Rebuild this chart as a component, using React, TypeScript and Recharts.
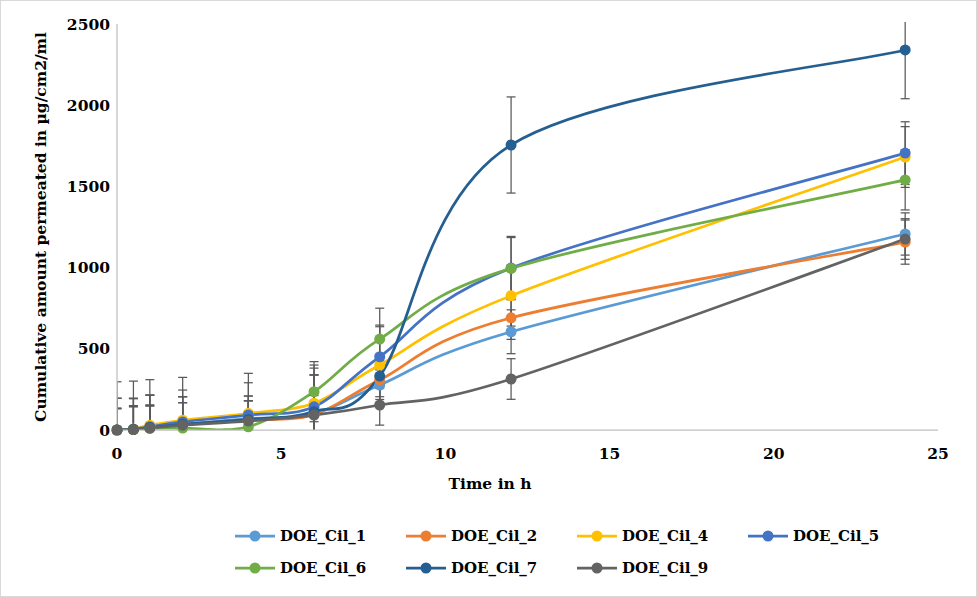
import React from 'react';
import { LineChart, Line, XAxis, YAxis, ErrorBar, Label } from 'recharts';

const FONT = '"DejaVu Serif", serif';

// sampling times (h)
const times = [0, 0.5, 1, 2, 4, 6, 8, 12, 24];

// cumulative amount permeated (µg/cm2/ml) and error bars
const cil1 = [0, 4, 15, 35, 70, 100, 277, 605, 1207];
const cil1Err = [130, 140, 135, 133, 110, 239, 120, 135, 130];
const cil2 = [0, 3, 14, 35, 60, 95, 308, 691, 1157];
const cil2Err = [195, 190, 200, 170, 149, 244, 120, 133, 136];
const cil4 = [0, 6, 30, 60, 103, 165, 400, 827, 1681];
const cil4Err = [195, 190, 185, 186, 188, 235, 236, 187, 187];
const cil5 = [0, 5, 20, 50, 92, 143, 451, 997, 1705];
const cil5Err = [135, 145, 135, 155, 117, 238, 195, 195, 193];
const cil6 = [0, 3, 10, 12, 20, 236, 560, 995, 1540];
const cil6Err = [297, 298, 300, 312, 329, 185, 190, 190, 185];
const cil7 = [0, 4, 15, 35, 65, 113, 332, 1755, 2340];
const cil7Err = [195, 190, 200, 170, 115, 226, 127, 296, 300];
const cil9 = [0, 3, 12, 30, 55, 92, 154, 314, 1176];
const cil9Err = [133, 140, 135, 138, 125, 120, 124, 125, 125];

const xTicks = [0, 5, 10, 15, 20, 25];
const yTicks = [0, 500, 1000, 1500, 2000, 2500];

const series = [
  { key: 'c1', name: 'DOE_Cil_1', color: '#5B9BD5', values: cil1, errors: cil1Err },
  { key: 'c2', name: 'DOE_Cil_2', color: '#ED7D31', values: cil2, errors: cil2Err },
  { key: 'c4', name: 'DOE_Cil_4', color: '#FFC000', values: cil4, errors: cil4Err },
  { key: 'c5', name: 'DOE_Cil_5', color: '#4472C4', values: cil5, errors: cil5Err },
  { key: 'c6', name: 'DOE_Cil_6', color: '#70AD47', values: cil6, errors: cil6Err },
  { key: 'c7', name: 'DOE_Cil_7', color: '#255E91', values: cil7, errors: cil7Err },
  { key: 'c9', name: 'DOE_Cil_9', color: '#636363', values: cil9, errors: cil9Err },
];

const data = times.map((t, i) => {
  const row: Record<string, number> = { t };
  series.forEach(s => {
    row[s.key] = s.values[i];
    row[s.key + 'e'] = s.errors[i];
  });
  return row;
});

// chart box
const W = 977;
const H = 597;
const M = { top: 24, right: 39, left: 20, bottom: 137 };
const Y_W = 97;
const X_H = 30;

// Excel-style smoothed line (cardinal / Catmull-Rom, control = p ± (next - prev) / 6)
const excelCurve: any = (context: any) => {
  let pts: number[][] = [];
  return {
    areaStart() {},
    areaEnd() {},
    lineStart() { pts = []; },
    point(x: number, y: number) { pts.push([+x, +y]); },
    lineEnd() {
      const n = pts.length;
      if (!n) return;
      context.moveTo(pts[0][0], pts[0][1]);
      for (let i = 0; i < n - 1; i++) {
        const p0 = pts[i - 1] || pts[i];
        const p1 = pts[i];
        const p2 = pts[i + 1];
        const p3 = pts[i + 2] || pts[i + 1];
        context.bezierCurveTo(
          p1[0] + (p2[0] - p0[0]) / 6, p1[1] + (p2[1] - p0[1]) / 6,
          p2[0] - (p3[0] - p1[0]) / 6, p2[1] - (p3[1] - p1[1]) / 6,
          p2[0], p2[1],
        );
      }
    },
  };
};

const tickStyle = { fill: '#000', fontSize: 15.5, fontWeight: 700, fontFamily: FONT };

const YTitle = (props: any) => {
  const { x, y, height } = props.viewBox;
  const cx = x + 20;
  const cy = y + height / 2;
  return (
    <text x={cx} y={cy} transform={`rotate(-90 ${cx} ${cy})`} textAnchor="middle" dominantBaseline="central"
      style={{ ...tickStyle }}>
      Cumulative amount permeated in µg/cm2/ml
    </text>
  );
};

const XTitle = (props: any) => {
  const { x, y } = props.viewBox;
  return (
    <text x={x + 373} y={y + 53} textAnchor="middle" dominantBaseline="central" style={{ ...tickStyle }}>
      Time in h
    </text>
  );
};

export default function App() {
  const plotX = M.left + Y_W;
  const plotY = M.top;
  const plotW = W - M.right - plotX;
  const plotH = H - M.bottom - X_H - M.top;
  return (
    <div style={{ position: 'absolute', left: 0, top: 0, width: W, height: H, background: '#fff' }}>
      {/* clip region for the error bars (plot area) */}
      <svg width={0} height={0} style={{ position: 'absolute' }}>
        <defs>
          <clipPath id="plot-clip">
            <rect x={plotX} y={plotY - 2} width={plotW} height={plotH + 2} />
          </clipPath>
        </defs>
      </svg>
      <LineChart width={W} height={H} data={data} margin={M}>
        <XAxis dataKey="t" type="number" domain={[0, 25]} ticks={xTicks} allowDataOverflow
          tickLine={false} tickSize={6} tickMargin={12} height={X_H}
          axisLine={{ stroke: '#BFBFBF', strokeWidth: 1.25 }} tick={tickStyle}>
          <Label content={XTitle} />
        </XAxis>
        <YAxis type="number" domain={[0, 2500]} ticks={yTicks} allowDataOverflow width={Y_W}
          tickLine={false} tickSize={5} tickMargin={2}
          axisLine={{ stroke: '#BFBFBF', strokeWidth: 1.25 }} tick={tickStyle}>
          <Label content={YTitle} />
        </YAxis>
        {series.map(s => (
          <Line key={s.key} dataKey={s.key} name={s.name} type={excelCurve} stroke={s.color} strokeWidth={2.75}
            dot={{ r: 5.5, fill: s.color, stroke: s.color, strokeWidth: 0, clipDot: false }} activeDot={false}
            isAnimationActive={false}>
            <ErrorBar dataKey={s.key + 'e'} direction="y" width={4.5} stroke="#595959" strokeWidth={1.25}
              clipPath="url(#plot-clip)" />
          </Line>
        ))}
      </LineChart>

      {/* legend */}
      <div style={{ position: 'absolute', left: 235, top: 520, width: 700, display: 'flex', flexWrap: 'wrap' }}>
        {series.map(s => (
          <div key={s.key} style={{ width: 171, height: 32, display: 'flex', alignItems: 'center' }}>
            <svg width={40} height={12} style={{ marginRight: 5 }}>
              <line x1={0} y1={6} x2={40} y2={6} stroke={s.color} strokeWidth={2.75} />
              <circle cx={20} cy={6} r={5.5} fill={s.color} />
            </svg>
            <span style={{ fontFamily: FONT, fontWeight: 700, fontSize: 15, color: '#000' }}>{s.name}</span>
          </div>
        ))}
      </div>

      <div style={{ position: 'absolute', left: 0, top: 0, width: W, height: H, boxSizing: 'border-box',
        border: '1px solid #D9D9D9', pointerEvents: 'none' }} />
    </div>
  );
}
